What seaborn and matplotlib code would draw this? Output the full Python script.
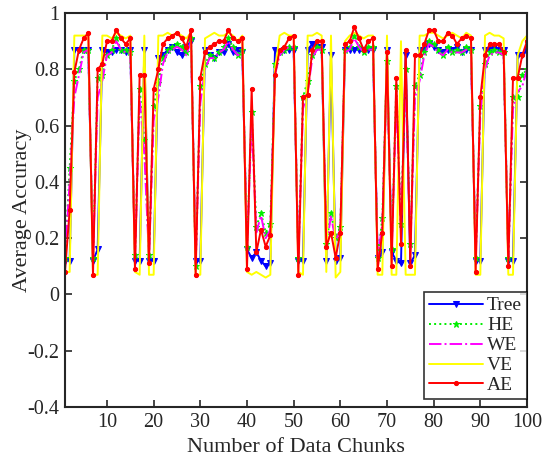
import numpy as np
import pandas as pd
import seaborn as sns
import matplotlib.pyplot as plt

chunks = np.arange(1, 101)

tree = [0.12, 0.12, 0.87, 0.87, 0.87, 0.87, 0.12, 0.16, 0.87, 0.86,
        0.86, 0.87, 0.87, 0.86, 0.87, 0.12, 0.12, 0.87, 0.12, 0.12,
        0.84, 0.85, 0.87, 0.88, 0.86, 0.85, 0.88, 0.90, 0.12, 0.12,
        0.87, 0.85, 0.84, 0.86, 0.86, 0.89, 0.86, 0.87, 0.86, 0.16,
        0.13, 0.15, 0.12, 0.10, 0.11, 0.87, 0.86, 0.87, 0.87, 0.87,
        0.12, 0.12, 0.87, 0.89, 0.88, 0.88, 0.12, 0.85, 0.12, 0.13,
        0.87, 0.87, 0.87, 0.87, 0.87, 0.87, 0.87, 0.13, 0.15, 0.87,
        0.15, 0.12, 0.11, 0.85, 0.11, 0.14, 0.87, 0.87, 0.89, 0.88,
        0.87, 0.86, 0.87, 0.87, 0.88, 0.86, 0.87, 0.87, 0.12, 0.12,
        0.87, 0.87, 0.88, 0.87, 0.87, 0.12, 0.12, 0.85, 0.85, 0.87]

he = [0.13, 0.45, 0.76, 0.80, 0.87, 0.87, 0.13, 0.77, 0.78, 0.85,
      0.87, 0.91, 0.87, 0.87, 0.86, 0.14, 0.73, 0.55, 0.14, 0.67,
      0.75, 0.84, 0.87, 0.88, 0.89, 0.88, 0.86, 0.91, 0.10, 0.74,
      0.82, 0.85, 0.84, 0.86, 0.88, 0.91, 0.88, 0.85, 0.87, 0.17,
      0.65, 0.24, 0.29, 0.22, 0.25, 0.82, 0.86, 0.87, 0.88, 0.88,
      0.13, 0.70, 0.76, 0.85, 0.88, 0.87, 0.18, 0.29, 0.20, 0.24,
      0.87, 0.88, 0.92, 0.88, 0.86, 0.88, 0.88, 0.13, 0.27, 0.83,
      0.16, 0.74, 0.25, 0.80, 0.18, 0.74, 0.78, 0.86, 0.90, 0.89,
      0.87, 0.85, 0.88, 0.86, 0.87, 0.86, 0.88, 0.87, 0.13, 0.67,
      0.82, 0.86, 0.87, 0.86, 0.86, 0.13, 0.70, 0.70, 0.78, 0.80]

we = [0.13, 0.40, 0.70, 0.78, 0.86, 0.87, 0.13, 0.70, 0.76, 0.85,
      0.86, 0.90, 0.87, 0.86, 0.86, 0.13, 0.70, 0.50, 0.13, 0.62,
      0.70, 0.82, 0.86, 0.87, 0.88, 0.87, 0.85, 0.90, 0.11, 0.68,
      0.80, 0.84, 0.84, 0.86, 0.87, 0.90, 0.87, 0.85, 0.86, 0.16,
      0.62, 0.22, 0.28, 0.20, 0.23, 0.78, 0.85, 0.87, 0.88, 0.88,
      0.13, 0.66, 0.72, 0.84, 0.87, 0.87, 0.17, 0.28, 0.19, 0.23,
      0.86, 0.87, 0.91, 0.88, 0.86, 0.87, 0.87, 0.13, 0.25, 0.80,
      0.15, 0.70, 0.23, 0.78, 0.16, 0.70, 0.76, 0.85, 0.89, 0.88,
      0.86, 0.85, 0.87, 0.86, 0.86, 0.86, 0.87, 0.86, 0.13, 0.64,
      0.80, 0.85, 0.86, 0.86, 0.85, 0.13, 0.66, 0.72, 0.74, 0.80]

ve = [0.08, 0.08, 0.92, 0.92, 0.92, 0.92, 0.07, 0.07, 0.92, 0.92,
      0.91, 0.93, 0.92, 0.91, 0.92, 0.08, 0.07, 0.92, 0.07, 0.07,
      0.92, 0.92, 0.93, 0.92, 0.93, 0.92, 0.91, 0.93, 0.07, 0.07,
      0.91, 0.92, 0.93, 0.92, 0.92, 0.93, 0.92, 0.90, 0.92, 0.08,
      0.07, 0.08, 0.07, 0.06, 0.07, 0.80, 0.92, 0.93, 0.92, 0.92,
      0.08, 0.07, 0.92, 0.92, 0.93, 0.92, 0.08, 0.92, 0.06, 0.08,
      0.90, 0.92, 0.93, 0.92, 0.91, 0.92, 0.92, 0.07, 0.07, 0.92,
      0.07, 0.07, 0.90, 0.07, 0.07, 0.07, 0.92, 0.92, 0.93, 0.93,
      0.92, 0.91, 0.92, 0.93, 0.92, 0.91, 0.93, 0.92, 0.07, 0.07,
      0.92, 0.93, 0.92, 0.92, 0.91, 0.07, 0.07, 0.85, 0.90, 0.92]

ae = [0.08, 0.30, 0.79, 0.87, 0.91, 0.93, 0.07, 0.80, 0.82, 0.90,
      0.90, 0.94, 0.91, 0.89, 0.91, 0.09, 0.78, 0.78, 0.11, 0.73,
      0.80, 0.89, 0.91, 0.92, 0.93, 0.91, 0.88, 0.94, 0.07, 0.77,
      0.86, 0.88, 0.89, 0.90, 0.90, 0.94, 0.91, 0.90, 0.91, 0.09,
      0.73, 0.15, 0.23, 0.17, 0.21, 0.78, 0.87, 0.88, 0.91, 0.92,
      0.07, 0.70, 0.71, 0.87, 0.90, 0.90, 0.17, 0.22, 0.13, 0.22,
      0.89, 0.90, 0.95, 0.91, 0.87, 0.90, 0.91, 0.09, 0.22, 0.86,
      0.10, 0.77, 0.18, 0.87, 0.10, 0.85, 0.85, 0.89, 0.94, 0.94,
      0.90, 0.90, 0.93, 0.92, 0.89, 0.91, 0.92, 0.91, 0.08, 0.70,
      0.85, 0.89, 0.89, 0.89, 0.86, 0.10, 0.77, 0.77, 0.85, 0.90]

yticks = [-0.4, -0.2, 0, 0.2, 0.4, 0.6, 0.8, 1]
ytick_labels = ['-0.4', '-0.2', '0', '0.2', '0.4', '0.6', '0.8', '1']
xticks = [10, 20, 30, 40, 50, 60, 70, 80, 90, 100]

sns.set_style('ticks')
plt.rcParams['font.family'] = ['Liberation Serif', 'DejaVu Serif']

fig = plt.figure(figsize=(5.43, 4.67), dpi=100)
ax = fig.add_axes([0.1197, 0.1285, 0.8508, 0.8435])

series = [
    ('Tree', tree, '#0000ff', '-', 'v', 4),
    ('HE', he, '#00ee00', ':', '*', 5),
    ('WE', we, '#ff00ff', '-.', '', 0),
    ('VE', ve, '#ffff00', '-', '', 0),
    ('AE', ae, '#ff0000', '-', 'o', 3),
]
for name, vals, col, ls, mk, ms in series:
    sns.lineplot(x=chunks, y=vals, ax=ax, color=col, linestyle=ls, marker=mk if mk else None,
                 markersize=ms, markeredgecolor=col, linewidth=1.4, label=name)

ax.set_xlim(1, 100)
ax.set_ylim(-0.4, 1)
ax.set_xticks(xticks)
ax.set_xticklabels([str(t) for t in xticks])
ax.set_yticks(yticks)
ax.set_yticklabels(ytick_labels)
ax.tick_params(direction='in', length=5, width=1.2, top=True, right=True, labelsize=14.5, pad=4)
for s in ax.spines.values():
    s.set_linewidth(1.5)
    s.set_visible(True)

ax.set_xlabel('Number of Data Chunks', fontsize=16, labelpad=5)
ax.set_ylabel('Average Accuracy', fontsize=16)
ax.yaxis.set_label_coords(-0.072, 0.5)

leg = ax.legend(loc='lower right', fontsize=14, frameon=True, fancybox=False, borderpad=0.25,
                labelspacing=0.12, handlelength=2.8, handletextpad=0.2, borderaxespad=0.0,
                bbox_to_anchor=(1.0, 0.02))
leg.get_frame().set_edgecolor('black')
leg.get_frame().set_linewidth(1.2)

fig.savefig('out.png', dpi=100)
